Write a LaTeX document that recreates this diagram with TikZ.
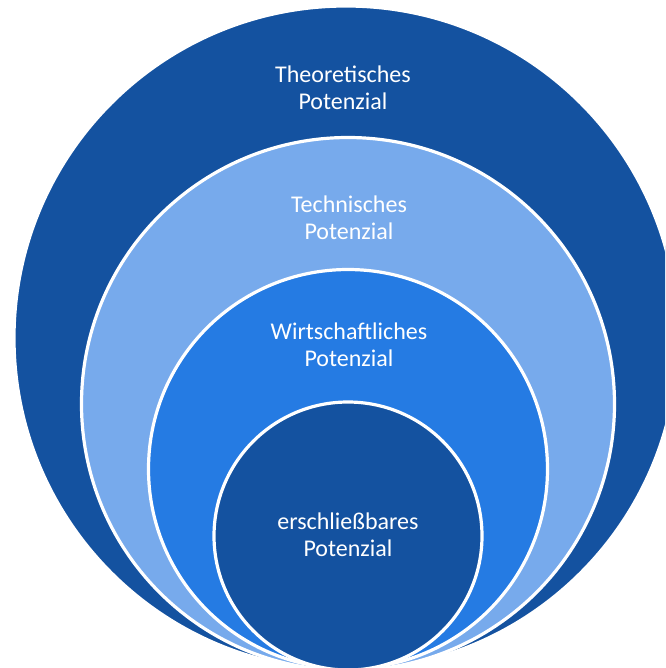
\documentclass[tikz,border=0pt]{standalone}
\usepackage{fontspec}
\setmainfont{Carlito}
\definecolor{darkblue}{HTML}{1452A0}
\definecolor{lightblue}{HTML}{77AAEC}
\definecolor{midblue}{HTML}{257BE3}
\begin{document}
\begin{tikzpicture}[x=0.75pt, y=-0.75pt,
    ring/.style={circle, draw=white, line width=2.4pt, inner sep=0pt},
    caption/.style={text=white, align=center, font=\fontsize{18}{20.5}\selectfont}]
    \useasboundingbox (0, 0) rectangle (665, 668);
    \clip (0, 0) rectangle (665, 668);
    \node[ring, fill=darkblue, minimum size=498pt] (theo) at (346, 338) {};
    \node[ring, fill=lightblue, minimum size=399.75pt] (tech) at (348, 404) {};
    \node[ring, fill=midblue, minimum size=299.25pt] (wirt) at (348, 469) {};
    \node[ring, fill=darkblue, minimum size=201pt] (ersch) at (348, 536) {};
    \node[caption] (theolabel) at (343, 88) {Theoretisches\\Potenzial};
    \node[caption] (techlabel) at (349, 218) {Technisches\\Potenzial};
    \node[caption] (wirtlabel) at (349, 345) {Wirtschaftliches\\Potenzial};
    \node[caption] (erschlabel) at (348, 535) {erschließbares\\Potenzial};
\end{tikzpicture}
\end{document}
